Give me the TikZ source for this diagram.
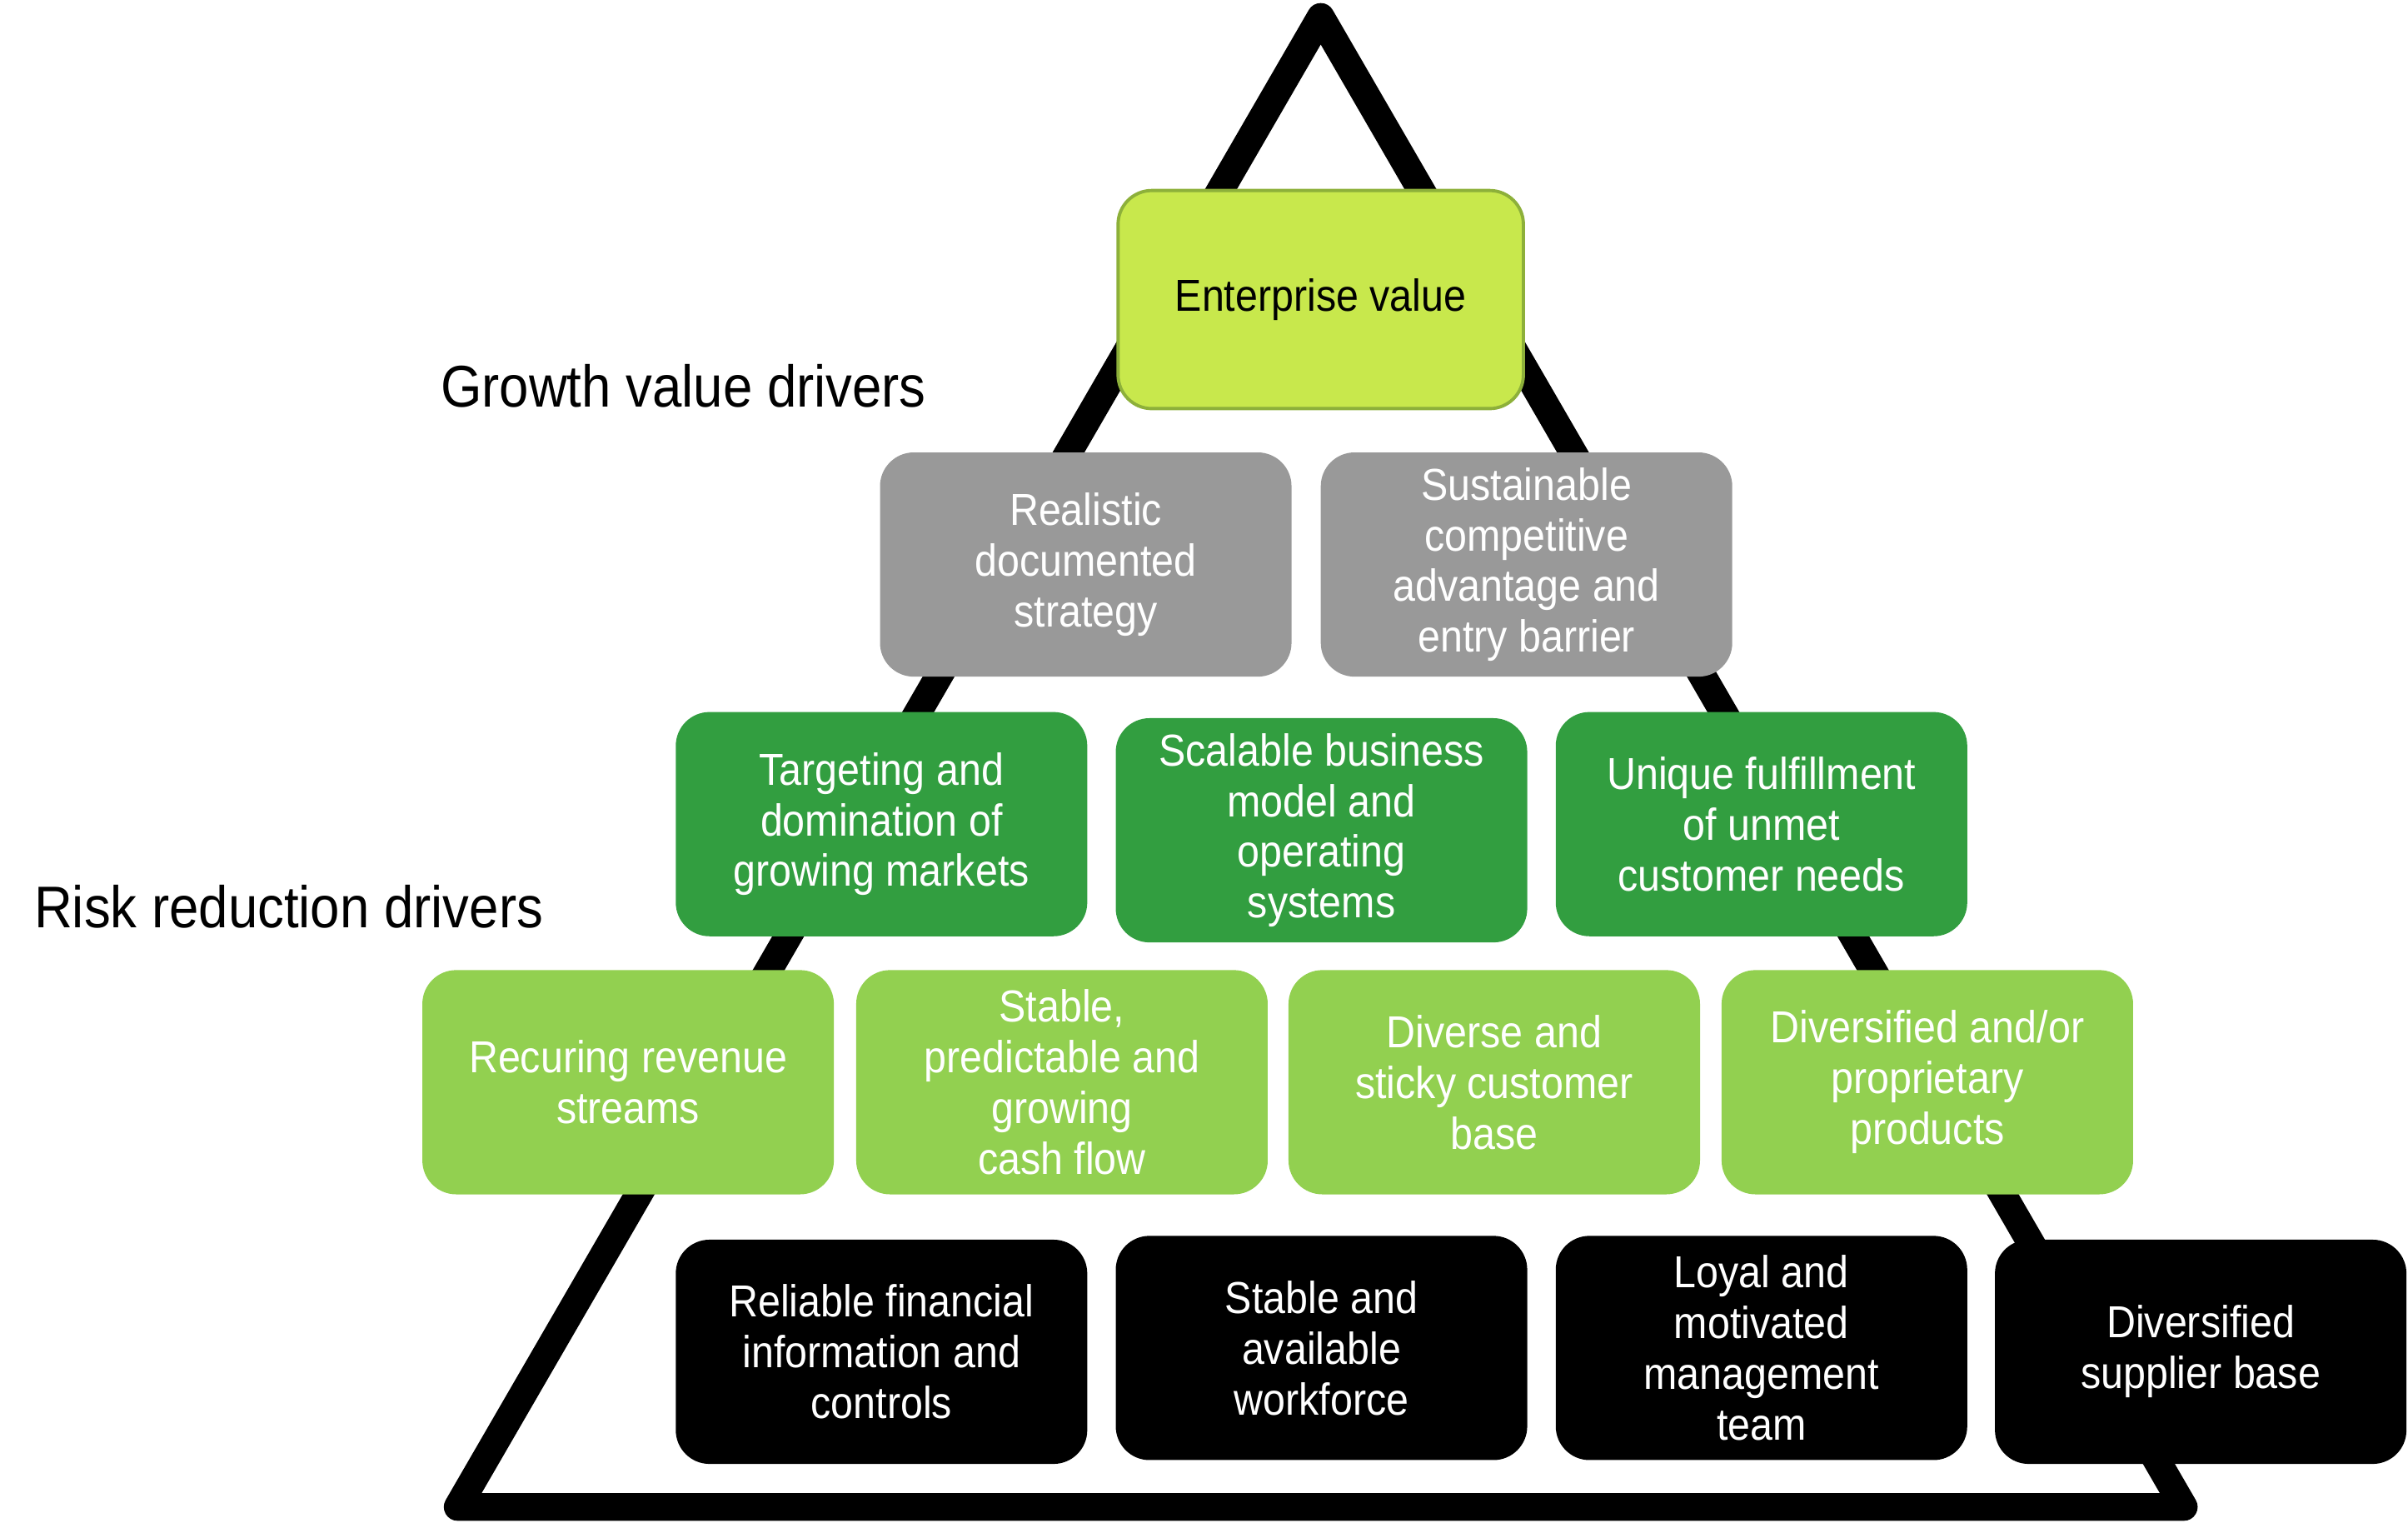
\documentclass[tikz,border=0pt]{standalone}
\usepackage{fontspec}
\setmainfont[FakeStretch=0.9]{Liberation Sans}
\definecolor{limefill}{RGB}{200,232,76}
\definecolor{limeborder}{RGB}{141,176,58}
\definecolor{greybox}{RGB}{153,153,153}
\definecolor{darkgreen}{RGB}{50,158,64}
\definecolor{lightgreen}{RGB}{146,208,80}
\begin{document}
\begin{tikzpicture}[x=0.02cm, y=-0.02cm,
  box/.style={rounded corners=0.44cm, minimum width=5.36cm, minimum height=2.92cm,
    inner sep=0pt, align=center, text=white, font=\fontsize{16.6}{18.8}\selectfont},
  evbox/.style={box, minimum width=5.28cm, minimum height=2.84cm, fill=limefill,
    draw=limeborder, line width=1.2pt, text=black},
  greyb/.style={box, fill=greybox},
  dgreen/.style={box, fill=darkgreen},
  lgreen/.style={box, fill=lightgreen},
  blackb/.style={box, fill=black},
  sidelabel/.style={font=\fontsize{21.8}{24}\selectfont, text=black, inner sep=0pt},
  frame/.style={line width=0.36cm, line join=round, draw=black}]
\useasboundingbox (0,0) rectangle (1568,991);
\coordinate (apex) at (860,11);
\coordinate (bl) at (298,981);
\coordinate (br) at (1422,981);
\draw[frame] (apex) -- (br) -- (bl) -- cycle;

\node[evbox] (ev) at (860,195) {Enterprise value};

\node[greyb] (g1) at (707,367.5) {Realistic\\documented\\strategy};
\node[greyb] (g2) at (994,367.5) {Sustainable\\competitive\\advantage and\\entry barrier};

\node[dgreen] (d1) at (574,536.5) {Targeting and\\domination of\\growing markets};
\node[dgreen] (d2) at (860.5,540.5) {Scalable business\\model and\\operating\\systems};
\node[dgreen] (d3) at (1147,536.5) {Unique fulfillment\\of unmet\\customer needs};

\node[lgreen] (l1) at (409,704.5) {Recuring revenue\\streams};
\node[lgreen] (l2) at (691.5,704.5) {Stable,\\predictable and\\growing\\cash flow};
\node[lgreen] (l3) at (973,704.5) {Diverse and\\sticky customer\\base};
\node[lgreen] (l4) at (1255,704.5) {Diversified and/or\\proprietary\\products};

\node[blackb] (b1) at (574,880) {Reliable financial\\information and\\controls};
\node[blackb] (b2) at (860.5,877.5) {Stable and\\available\\workforce};
\node[blackb] (b3) at (1147,877.5) {Loyal and\\motivated\\management\\team};
\node[blackb] (b4) at (1433,880) {Diversified\\supplier base};

\node[sidelabel] (growth) at (445,251) {Growth value drivers};
\node[sidelabel] (risk) at (188,590) {Risk reduction drivers};
\end{tikzpicture}
\end{document}
